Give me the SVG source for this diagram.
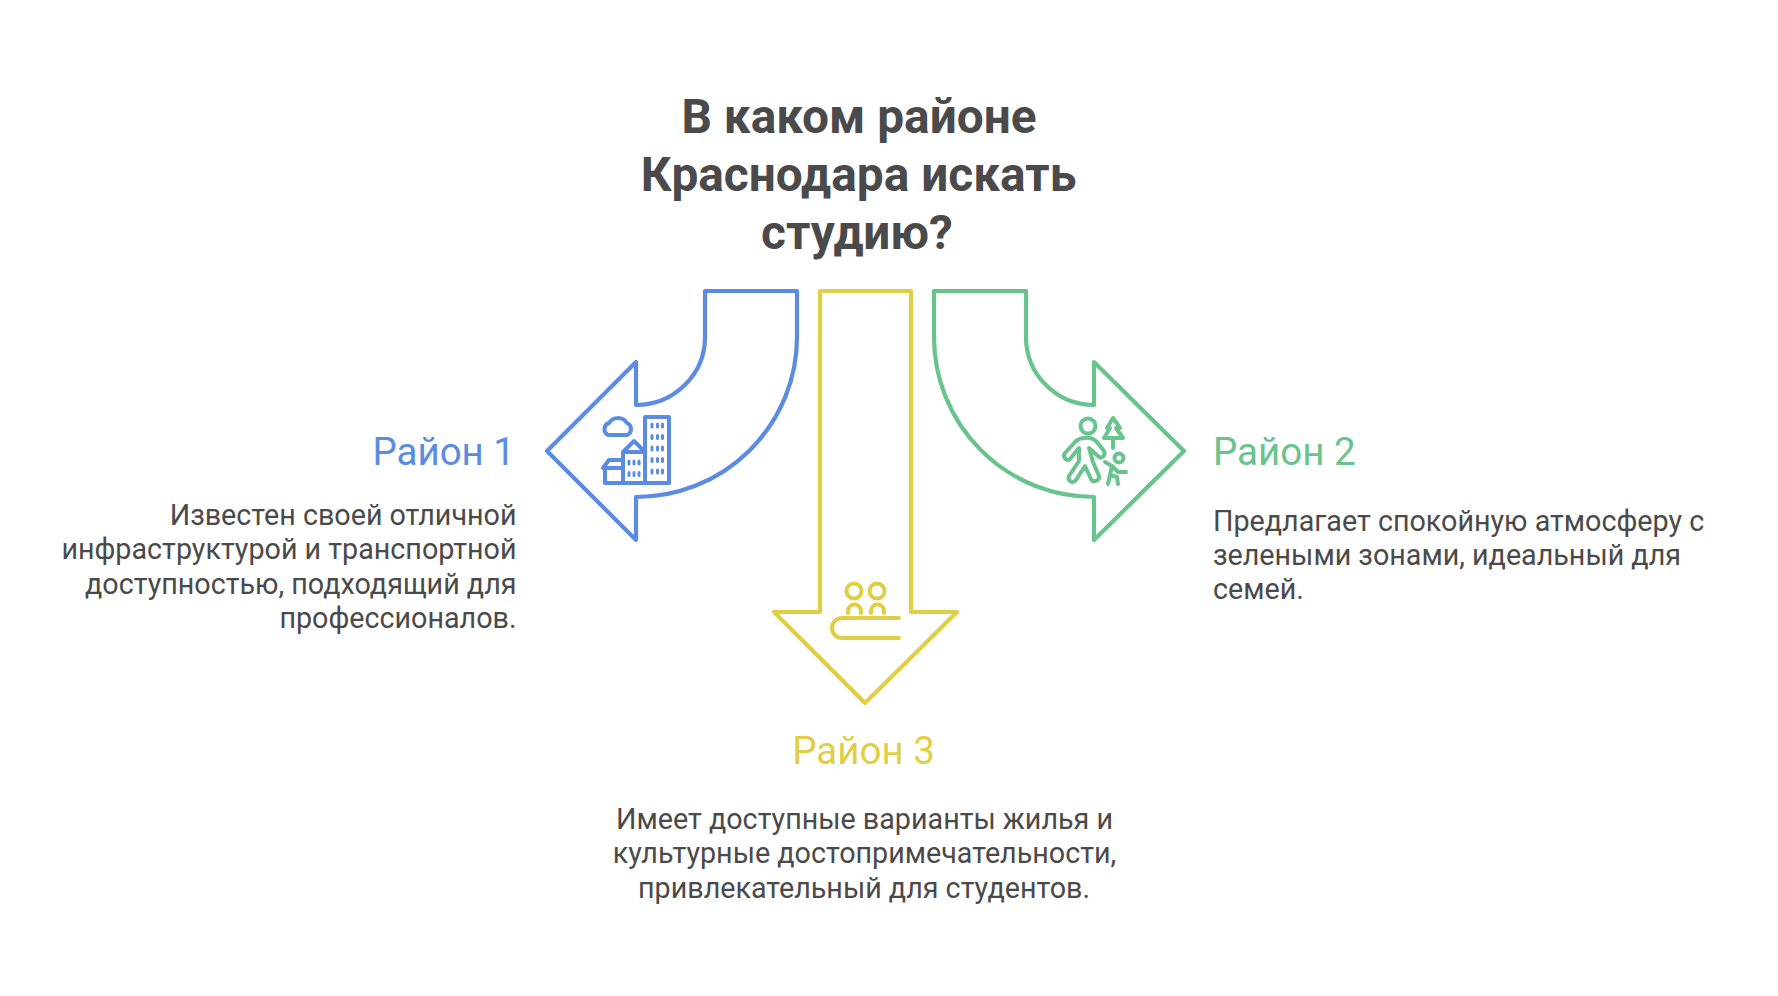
<svg xmlns="http://www.w3.org/2000/svg" width="1778" height="996" viewBox="0 0 1778 996">
<style>
text{font-family:Roboto,"Liberation Sans",sans-serif}
.t{font-size:47.800px;font-weight:700;fill:#4a4a4a;text-anchor:middle}
.h{font-size:38.500px;font-weight:400}
.b{font-size:28.700px;fill:#4a4a4a}
.s{fill:none;stroke-width:4.200;stroke-linejoin:round;stroke-linecap:round}
.i{fill:none;stroke-width:4;stroke-linejoin:round;stroke-linecap:round}
.blue{stroke:#5B8BE3}.green{stroke:#68C38D}.yellow{stroke:#E0CF45}
</style>
<rect width="1778" height="996" fill="#fff"/>
<g id="title"><text class="t" x="859" y="133">В каком районе</text><text class="t" x="858.500" y="191">Краснодара искать</text><text class="t" x="857" y="249">студию?</text></g>
<g id="connectors">
<path id="arrow1" class="s blue" d="M705 291H797V337A161 160 0 0 1 636 497V540L547 451L636 362V405A69 68 0 0 0 705 337Z"/>
<path id="arrow2" class="s green" d="M934 291H1026V337A68 68 0 0 0 1094 405V362L1184 451L1094 540V497A160 160 0 0 1 934 337Z"/>
<path id="arrow3" class="s yellow" d="M820 291H911V612H957L865 703L774 612H820Z"/>
</g>
<g id="node1">
<g class="i blue">
<path d="M645 417H669V483H645ZM623 452H645V483H623ZM623 452L634 441L645 452M605 468H623V483H605ZM603 468L609 460H623"/>
<path d="M608 435H627A6.500 6.500 0 0 0 627 423A10.500 10.500 0 0 0 609 423A6.500 6.500 0 0 0 608 435Z"/>
<path stroke-width="3" stroke-dasharray="3 8.500" d="M652 424V478M657.500 424V478M662.500 424V478"/>
<path stroke-width="3" stroke-dasharray="3 8.500" d="M629 461V477M634 461V477M639 461V477"/>
</g>
<text class="h" x="515" y="465" text-anchor="end" fill="#5B8BE3">Район 1</text>
<g class="b" text-anchor="end"><text x="516.500" y="525">Известен своей отличной</text><text x="516.500" y="559.300">инфраструктурой и транспортной</text><text x="516.500" y="593.700">доступностью, подходящий для</text><text x="516.500" y="628">профессионалов.</text></g>
</g>
<g id="node2">
<g class="i green">
<circle cx="1088" cy="426" r="7.500"/>
<path d="M1085 438C1090 437 1094 439 1097 442L1104 451C1106 455 1102 459 1099 457L1089 448L1093 462L1099 476C1100 481 1093 483 1091 479L1085 466L1076 480C1073 484 1067 481 1069 476L1079 461L1079 448L1070 459C1067 462 1062 457 1065 453L1075 442C1078 439 1081 438 1085 438Z"/>
<path d="M1113 418L1120 428H1116L1123 438H1104L1110 428H1107ZM1113 438V448"/>
<circle cx="1119" cy="458" r="4.500"/>
<path d="M1105 462L1112 466L1108 484M1112 466L1118 472L1126 472M1110 475L1117 477L1118 484"/>
</g>
<text class="h" x="1213" y="465" fill="#68C38D">Район 2</text>
<g class="b"><text x="1213" y="531">Предлагает спокойную атмосферу с</text><text x="1213" y="565">зелеными зонами, идеальный для</text><text x="1213" y="599">семей.</text></g>
</g>
<g id="node3">
<g class="i yellow">
<circle cx="854" cy="591" r="7.500"/><circle cx="877" cy="591" r="7.500"/>
<path d="M848 613V611A6.500 6.500 0 0 1 861 611V613M871 613V611A6.500 6.500 0 0 1 884 611V613M899 618H842A10 10 0 0 0 842 638H899"/>
</g>
<text class="h" x="863.500" y="763.500" text-anchor="middle" fill="#E0CF45">Район 3</text>
<g class="b" text-anchor="middle"><text x="864.500" y="828.500">Имеет доступные варианты жилья и</text><text x="864.500" y="863">культурные достопримечательности,</text><text x="864" y="897.500">привлекательный для студентов.</text></g>
</g>
</svg>
